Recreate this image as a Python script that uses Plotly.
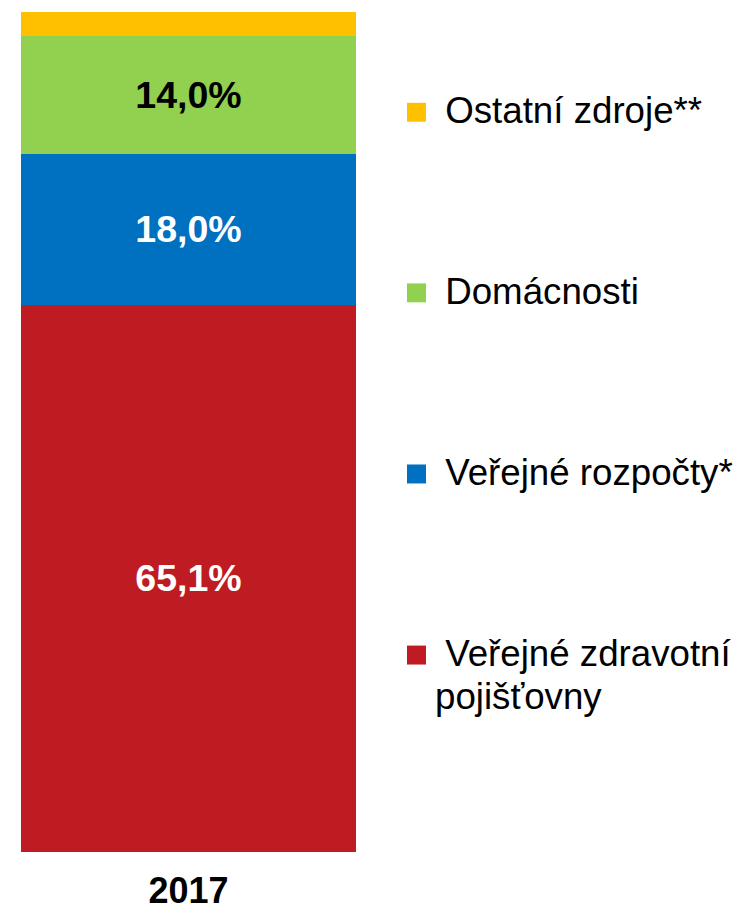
import plotly.graph_objects as go

# page is rendered with an 8px body margin; size the figure to the visible window
OFF = 8
W, H = 745 - OFF, 911 - OFF

categories = ["2017"]
series_names = ["Veřejné zdravotní pojišťovny", "Veřejné rozpočty*", "Domácnosti", "Ostatní zdroje**"]
legend_lines = [["\u00a0Veřejné zdravotní", "pojišťovny"], ["\u00a0Veřejné rozpočty*"], ["\u00a0Domácnosti"], ["\u00a0Ostatní zdroje**"]]
series_values = [[65.1], [18.0], [14.0], [2.9]]
show_label = [True, True, True, False]
colors = ["#BE1B22", "#0070C0", "#92D050", "#FFC000"]
label_colors = ["white", "white", "black", "black"]

FONT = "Liberation Sans, Arial, sans-serif"


def px_x(x):
    return (x - OFF) / W


def px_y(y):
    return 1 - (y - OFF) / H


fig = go.Figure()
for name, vals, col, lc, show in zip(series_names, series_values, colors, label_colors, show_label):
    fig.add_trace(go.Bar(
        x=categories, y=vals, name=name,
        marker=dict(color=col, line=dict(width=0)),
        texttemplate="%{y:.1f}%" if show else "",
        textposition="inside" if show else "none",
        insidetextanchor="middle",
        textangle=0,
        textfont=dict(family=FONT, size=37.5, color=lc, weight="bold"),
        showlegend=False,
        hoverinfo="skip",
    ))

# legend drawn at the reference's spacing (absolute window pixels)
leg_centers_px = [656.5, 475, 293.5, 112.5]
for lines, col, cy in zip(legend_lines, colors, leg_centers_px):
    fig.add_shape(type="rect", xref="paper", yref="paper",
                  x0=px_x(407), x1=px_x(426),
                  y0=px_y(cy + 9.5), y1=px_y(cy - 9.5),
                  fillcolor=col, line=dict(width=0))
    for i, line in enumerate(lines):
        fig.add_annotation(xref="paper", yref="paper", x=px_x(433), y=px_y(cy - 1.5 + i * 43),
                           xanchor="left", yanchor="middle", align="left",
                           text=line, showarrow=False,
                           font=dict(family=FONT, size=36.7, color="black"))

fig.update_layout(
    width=W, height=H,
    margin=dict(l=0, r=0, t=0, b=0),
    barmode="stack", bargap=0,
    separators=", ",
    plot_bgcolor="white", paper_bgcolor="white",
    font=dict(family=FONT, color="black"),
    xaxis=dict(domain=[px_x(21), px_x(356)], showgrid=False, showline=False, zeroline=False,
               ticks="", tickfont=dict(family=FONT, size=36, color="black", weight="bold"),
               ticklabelstandoff=14),
    yaxis=dict(domain=[px_y(854), px_y(12)], range=[0, 100], visible=False),
)

fig.write_html("out.html")
